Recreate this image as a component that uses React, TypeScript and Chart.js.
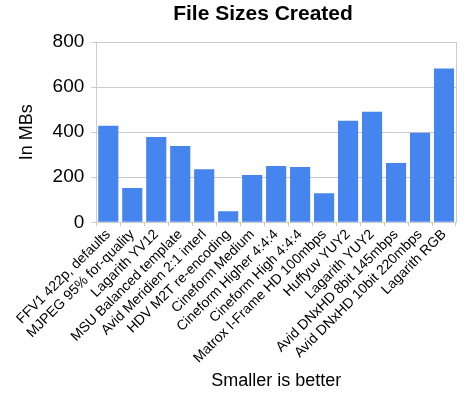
import React, { useEffect, useRef } from "react";
import { Chart, registerables } from "chart.js";

Chart.register(...registerables);

const categories = [
  "FFV1 422p, defaults",
  "MJPEG 95% for-quality",
  "Lagarith YV12",
  "MSU Balanced template",
  "Avid Meridien 2:1 interl",
  "HDV M2T re-encoding",
  "Cineform Medium",
  "Cineform Higher 4:4:4",
  "Cineform High 4:4:4",
  "Matrox I-Frame HD 100mbps",
  "Huffyuv YUY2",
  "Lagarith YUY2",
  "Avid DNxHD 8bit 145mbps",
  "Avid DNxHD 10bit 220mbps",
  "Lagarith RGB",
];
const fileSizes = [428, 152, 379, 339, 236, 49, 210, 250, 245, 129, 451, 491, 263, 397, 683];
const yTicks = [0, 200, 400, 600, 800];
const chartTitle = "File Sizes Created";

const FONT = "'Liberation Sans', Arial, sans-serif";

export default function App() {
  const ref = useRef<HTMLCanvasElement>(null);
  useEffect(() => {
    if (!ref.current) return;
    const decorations = {
      id: "decorations",
      afterDraw(chart: any) {
        const { ctx, chartArea } = chart;
        ctx.save();
        ctx.strokeStyle = "#cccccc";
        ctx.lineWidth = 1;
        ctx.beginPath();
        ctx.moveTo(Math.round(chartArea.right) + 0.5, chartArea.top);
        ctx.lineTo(Math.round(chartArea.right) + 0.5, chartArea.bottom);
        ctx.stroke();
        ctx.fillStyle = "#000";
        ctx.font = `bold 21px ${FONT}`;
        ctx.textAlign = "center";
        ctx.textBaseline = "middle";
        ctx.fillText(chartTitle, chart.width / 2 + 30, 14);
        ctx.restore();
      },
    };
    const chart = new Chart(ref.current, {
      type: "bar",
      data: {
        labels: categories,
        datasets: [
          {
            data: fileSizes,
            backgroundColor: "#4684ee",
            barPercentage: 0.84,
            categoryPercentage: 1,
          },
        ],
      },
      plugins: [decorations],
      options: {
        animation: false,
        responsive: false,
        layout: { padding: { left: 16, right: 10, top: 42, bottom: 2 } },
        plugins: {
          legend: { display: false },
          tooltip: { enabled: false },
          title: { display: false },
        },
        scales: {
          x: {
            grid: {
              display: true,
              drawOnChartArea: false,
              drawTicks: true,
              tickLength: 4,
              color: "#cccccc",
              offset: true,
            },
            border: { color: "#cccccc" },
            ticks: {
              color: "#000",
              font: { family: FONT, size: 14 },
              minRotation: 45,
              maxRotation: 45,
              autoSkip: false,
              padding: 0,
            },
            title: {
              display: true,
              text: "Smaller is better",
              color: "#000",
              font: { family: FONT, size: 18 },
              padding: { top: 4, bottom: 0 },
            },
          },
          y: {
            min: 0,
            max: 800,
            afterBuildTicks: (axis: any) => {
              axis.ticks = yTicks.map((v) => ({ value: v }));
            },
            grid: { color: "#cccccc", tickLength: 5 },
            border: { color: "#cccccc" },
            ticks: {
              color: "#000",
              font: { family: FONT, size: 19 },
              padding: 7,
            },
            title: {
              display: true,
              text: "In MBs",
              color: "#000",
              font: { family: FONT, size: 18 },
              padding: { top: 0, bottom: 8 },
            },
          },
        },
      },
    });
    return () => chart.destroy();
  }, []);
  return (
    <div style={{ position: "absolute", left: 0, top: 0, width: 466, height: 394, background: "#fff" }}>
      <canvas ref={ref} width={466} height={394} />
    </div>
  );
}
